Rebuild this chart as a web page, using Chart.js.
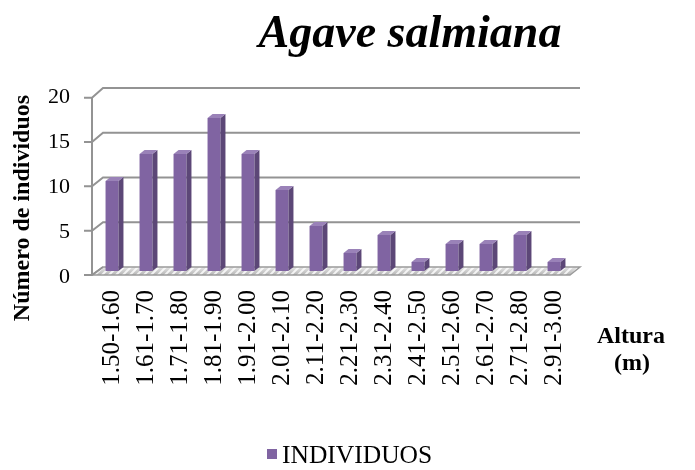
<!DOCTYPE html>
<html>
<head>
    <title>Agave salmiana</title>
    <script src="https://cdn.jsdelivr.net/npm/chart.js"></script>
    <style>
        body { margin: 0; background: #fff; }
        #wrap { width: 695px; height: 470px; }
    </style>
    <script>
        const categories = ['1.50-1.60', '1.61-1.70', '1.71-1.80', '1.81-1.90', '1.91-2.00', '2.01-2.10', '2.11-2.20',
            '2.21-2.30', '2.31-2.40', '2.41-2.50', '2.51-2.60', '2.61-2.70', '2.71-2.80', '2.91-3.00'];
        const individuos = [10, 13, 13, 17, 13, 9, 5, 2, 4, 1, 3, 3, 4, 1];
        const yTicks = [0, 5, 10, 15, 20];

        const FONT = "'Liberation Serif', 'Times New Roman', serif";
        const PURPLE = '#8064a2';

        // fake 3d: back wall grid, floor, front axis
        const wallPlugin = {
            id: 'wall',
            beforeDatasetsDraw(chart) {
                const ctx = chart.ctx;
                const y = chart.scales.y;
                const base = y.getPixelForValue(0);
                const backY = v => y.getPixelForValue(v) - 4 + v / 20;
                const frontY = v => base + 4 + (y.getPixelForValue(v) - base) * 0.985;
                const fx = 92, bx = 103, bxr = 580, fxr = 570;

                const floorPath = () => {
                    ctx.beginPath();
                    ctx.moveTo(fx, frontY(0));
                    ctx.lineTo(fxr, frontY(0));
                    ctx.lineTo(bxr, backY(0));
                    ctx.lineTo(bx, backY(0));
                    ctx.closePath();
                };

                ctx.save();
                // floor
                floorPath();
                const g = ctx.createLinearGradient(0, backY(0), 0, frontY(0));
                g.addColorStop(0, '#e6e6e6');
                g.addColorStop(1, '#b4b4b4');
                ctx.fillStyle = g;
                ctx.fill();
                ctx.save();
                ctx.clip();
                ctx.strokeStyle = 'rgba(255,255,255,0.8)';
                ctx.lineWidth = 2;
                for (let x = fx - 20; x < bxr + 20; x += 7) {
                    ctx.beginPath();
                    ctx.moveTo(x, frontY(0) + 2);
                    ctx.lineTo(x + 12, backY(0) - 2);
                    ctx.stroke();
                }
                ctx.restore();
                floorPath();
                ctx.strokeStyle = '#9a9a9a';
                ctx.lineWidth = 1.5;
                ctx.stroke();

                // back grid + diagonals + front axis
                ctx.strokeStyle = '#939393';
                ctx.lineWidth = 2;
                yTicks.forEach(v => {
                    ctx.beginPath();
                    if (v > 0) {
                        ctx.moveTo(bxr, backY(v));
                        ctx.lineTo(bx, backY(v));
                    } else {
                        ctx.moveTo(bx, backY(v));
                    }
                    ctx.lineTo(fx, frontY(v));
                    ctx.lineTo(fx - 8, frontY(v));
                    ctx.stroke();
                });
                ctx.beginPath();
                ctx.moveTo(fx, frontY(0));
                ctx.lineTo(fx, frontY(20));
                ctx.stroke();
                ctx.restore();
            },
            afterDatasetsDraw(chart) {
                const ctx = chart.ctx;
                const dx = 5, dy = 4;
                ctx.save();
                chart.getDatasetMeta(0).data.forEach(bar => {
                    const l = bar.x - bar.width / 2, r = bar.x + bar.width / 2;
                    // side
                    ctx.beginPath();
                    ctx.moveTo(r, bar.y);
                    ctx.lineTo(r + dx, bar.y - dy);
                    ctx.lineTo(r + dx, bar.base - dy);
                    ctx.lineTo(r, bar.base);
                    ctx.closePath();
                    ctx.fillStyle = '#5c4777';
                    ctx.fill();
                    // top
                    ctx.beginPath();
                    ctx.moveTo(l, bar.y);
                    ctx.lineTo(l + dx, bar.y - dy);
                    ctx.lineTo(r + dx, bar.y - dy);
                    ctx.lineTo(r, bar.y);
                    ctx.closePath();
                    ctx.fillStyle = '#9a82b8';
                    ctx.fill();
                });
                ctx.restore();
            },
            afterDraw(chart) {
                const ctx = chart.ctx;
                ctx.save();
                ctx.fillStyle = '#000';
                ctx.textAlign = 'center';
                ctx.textBaseline = 'alphabetic';
                ctx.font = 'bold italic 46px ' + FONT;
                ctx.fillText('Agave salmiana', 410, 47);

                ctx.font = 'bold 24px ' + FONT;
                ctx.fillText('Altura', 631, 343);
                ctx.fillText('(m)', 632, 370);

                ctx.save();
                ctx.translate(23, 208);
                ctx.rotate(-Math.PI / 2);
                ctx.textBaseline = 'middle';
                ctx.fillText('Número de individuos', 0, 0);
                ctx.restore();

                // legend
                ctx.fillStyle = PURPLE;
                ctx.fillRect(267, 449, 10, 10);
                ctx.fillStyle = '#000';
                ctx.textAlign = 'left';
                ctx.font = '25.5px ' + FONT;
                ctx.fillText(chart.data.datasets[0].label, 282, 463);
                ctx.restore();
            }
        };

        window.onload = function () {
            const ctx = document.getElementById('c').getContext('2d');
            new Chart(ctx, {
                type: 'bar',
                data: {
                    labels: categories,
                    datasets: [{
                        label: 'INDIVIDUOS',
                        data: individuos,
                        backgroundColor: PURPLE,
                        borderWidth: 0,
                        categoryPercentage: 1,
                        barPercentage: 0.38
                    }]
                },
                options: {
                    responsive: false,
                    animation: false,
                    layout: { padding: { left: 0, right: 124, top: 91, bottom: 0 } },
                    plugins: { legend: { display: false }, tooltip: { enabled: false } },
                    scales: {
                        x: {
                            grid: { display: false, drawTicks: false },
                            border: { display: false },
                            afterFit(s) { s.height = 199; },
                            ticks: {
                                minRotation: 90, maxRotation: 90,
                                padding: 19, color: '#000',
                                font: { family: FONT, size: 25 }
                            }
                        },
                        y: {
                            min: 0, max: 20,
                            grid: { display: false, drawTicks: false },
                            border: { display: false },
                            afterFit(s) { s.width = 95; },
                            ticks: {
                                stepSize: 5, padding: 25, labelOffset: 6, color: '#000',
                                font: { family: FONT, size: 22 }
                            }
                        }
                    }
                },
                plugins: [wallPlugin]
            });
        };
    </script>
</head>
<body>
<div id="wrap"><canvas id="c" width="695" height="470"></canvas></div>
</body>
</html>
